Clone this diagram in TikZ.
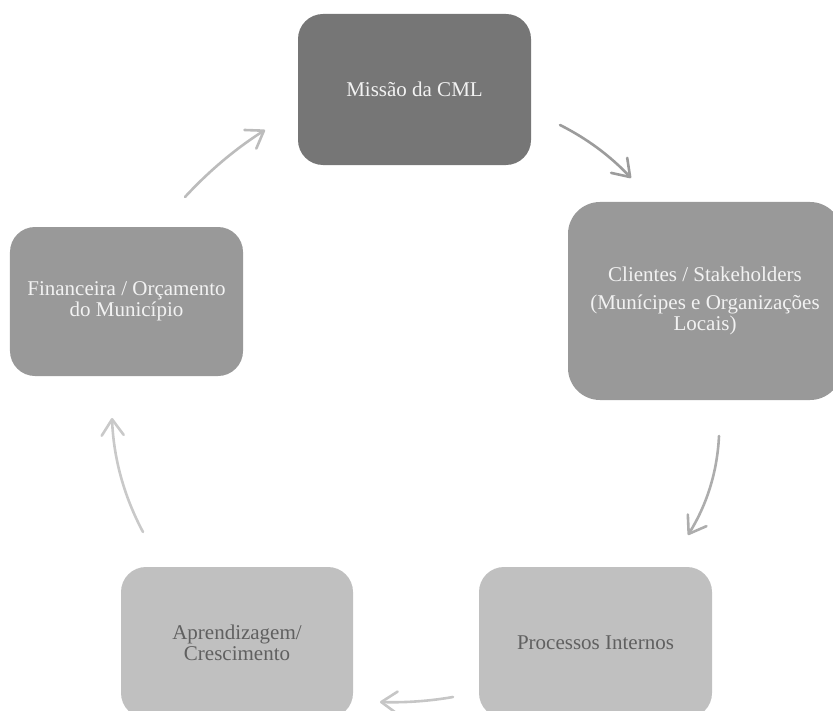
\documentclass[tikz,border=0pt]{standalone}
\usepackage{fontspec}
\setmainfont{Liberation Serif}
\usetikzlibrary{arrows.meta}
\definecolor{darkbox}{HTML}{767676}
\definecolor{midbox}{HTML}{999999}
\definecolor{lightbox}{HTML}{C0C0C0}
\definecolor{lighttext}{HTML}{F2F2F2}
\definecolor{darktext}{HTML}{606060}
\definecolor{arrA}{HTML}{9C9C9C}
\definecolor{arrB}{HTML}{ADADAD}
\definecolor{arrC}{HTML}{C6C6C6}
\definecolor{arrD}{HTML}{C9C9C9}
\definecolor{arrE}{HTML}{BCBCBC}
\begin{document}
\begin{tikzpicture}[x=1bp,y=-1bp,
  box/.style={rounded corners=25bp, draw=none, inner sep=0pt, align=center,
    font=\fontsize{21bp}{21bp}\selectfont},
  cyclearrow/.style={line width=2.6bp, line cap=round, line join=round,
    -{Straight Barb[length=16bp,width=22bp,line cap=round,line join=round]}}]
\useasboundingbox (0,0) rectangle (833,711);
\begin{scope}
\clip (0,0) rectangle (833,711);
\node[box, fill=darkbox, text=lighttext, minimum width=233bp, minimum height=151bp]
  (missao) at (414.5,89.5) {Missão da CML};
\node[box, rounded corners=32bp, fill=midbox, text=lighttext, minimum width=274bp, minimum height=198bp]
  (clientes) at (705,301) {Clientes / Stakeholders\\[7bp](Munícipes e Organizações\\Locais)};
\node[box, fill=lightbox, text=darktext, minimum width=233bp, minimum height=151bp]
  (processos) at (595.5,642.5) {Processos Internos};
\node[box, fill=lightbox, text=darktext, minimum width=232bp, minimum height=151bp]
  (aprend) at (237,642.5) {Aprendizagem/\\Crescimento};
\node[box, fill=midbox, text=lighttext, minimum width=233bp, minimum height=149bp]
  (financeira) at (126.5,301.5) {Financeira / Orçamento\\do Município};
\end{scope}
\coordinate (a1s) at (560,125);
\coordinate (a1e) at (631,178);
\coordinate (a2s) at (719,436);
\coordinate (a2e) at (688,535);
\coordinate (a3s) at (453,697);
\coordinate (a3e) at (380,702);
\coordinate (a4s) at (143,532);
\coordinate (a4e) at (112,418);
\coordinate (a5s) at (185,197);
\coordinate (a5e) at (265,130);
\draw[cyclearrow, draw=arrA] (a1s) .. controls (586.9,138.5) and (610.5,156.1) .. (a1e);
\draw[cyclearrow, draw=arrB] (a2s) .. controls (717.3,471.7) and (706.9,504.7) .. (a2e);
\draw[cyclearrow, draw=arrC] (a3s) .. controls (428.9,701.2) and (404.5,702.8) .. (a3e);
\draw[cyclearrow, draw=arrD] (a4s) .. controls (124,496.4) and (113.6,458.4) .. (a4e);
\draw[cyclearrow, draw=arrE] (a5s) .. controls (208.8,171.2) and (235.4,148.8) .. (a5e);
\end{tikzpicture}
\end{document}
